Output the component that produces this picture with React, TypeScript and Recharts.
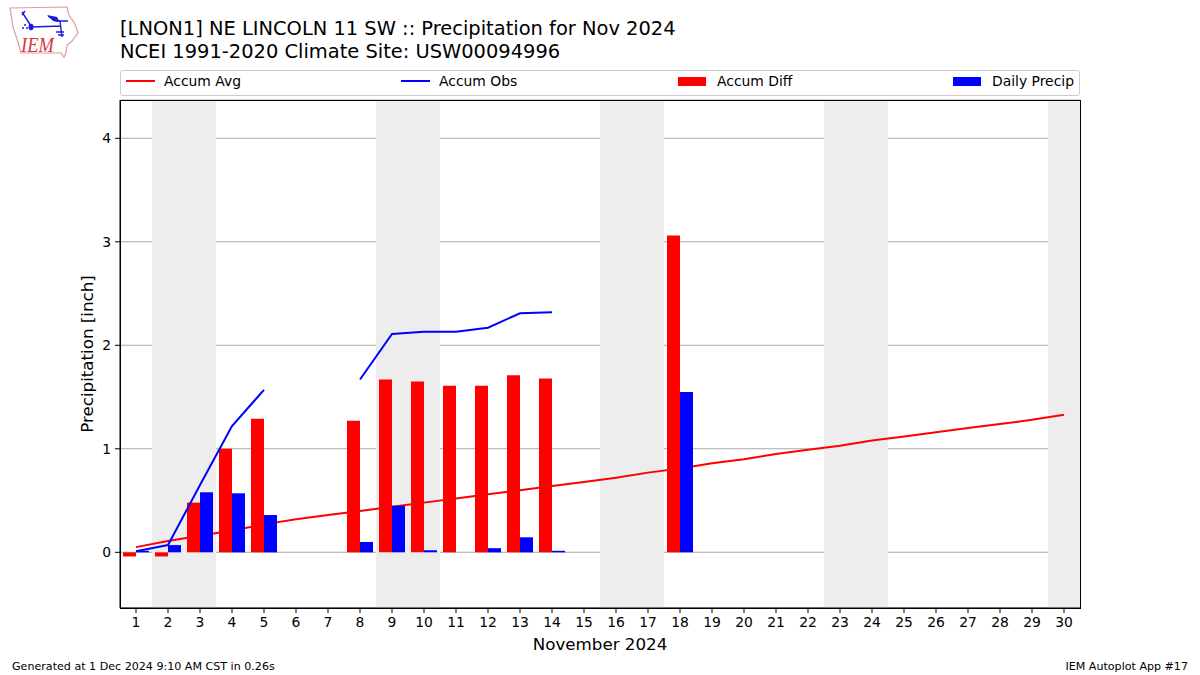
import {
  Bar,
  CartesianGrid,
  ComposedChart,
  Label,
  Line,
  ReferenceArea,
  XAxis,
  YAxis,
} from "recharts";

const days = [
  1, 2, 3, 4, 5, 6, 7, 8, 9, 10, 11, 12, 13, 14, 15, 16, 17, 18, 19, 20, 21, 22,
  23, 24, 25, 26, 27, 28, 29, 30,
];
const accumAvg = [
  0.05, 0.11, 0.16, 0.21, 0.27, 0.32, 0.36, 0.4, 0.44, 0.48, 0.52, 0.56, 0.6,
  0.64, 0.68, 0.72, 0.77, 0.81, 0.86, 0.9, 0.95, 0.99, 1.03, 1.08, 1.12, 1.16,
  1.2, 1.24, 1.28, 1.33,
];
const accumObs = [
  0.01, 0.07, 0.65, 1.22, 1.57, null, null, 1.67, 2.11, 2.13, 2.13, 2.17, 2.31,
  2.32, null, null, null, null, null, null, null, null, null, null, null, null,
  null, null, null, null,
];
const accumDiff = [
  -0.04, -0.04, 0.48, 1.0, 1.29, null, null, 1.27, 1.67, 1.65, 1.61, 1.61, 1.71,
  1.68, null, null, null, 3.06, null, null, null, null, null, null, null, null,
  null, null, null, null,
];
const dailyPrecip = [
  0.015, 0.07, 0.58, 0.57, 0.36, null, null, 0.1, 0.45, 0.02, 0, 0.04, 0.145,
  0.015, null, null, null, 1.55, null, null, null, null, null, null, null, null,
  null, null, null, null,
];
const weekends = [
  [1.5, 3.5],
  [8.5, 10.5],
  [15.5, 17.5],
  [22.5, 24.5],
  [29.5, 30.5],
];
const yTicks = [0, 1, 2, 3, 4];

const chartData = days.map((day, i) => ({
  day,
  avg: accumAvg[i],
  obs: accumObs[i],
  diff: accumDiff[i],
  daily: dailyPrecip[i],
}));

const FONT = "'DejaVu Sans', sans-serif";

function LegendBox() {
  const text = { position: "absolute", top: 2, fontSize: 13.9 } as const;
  return (
    <div
      style={{
        position: "absolute",
        left: 120,
        top: 70,
        width: 958,
        height: 24,
        border: "1px solid #ccc",
        borderRadius: 3,
        background: "#fff",
        color: "#000",
        fontFamily: FONT,
      }}
    >
      <div style={{ position: "absolute", left: 5, top: 9, width: 29, height: 2, background: "#f00" }} />
      <span style={{ ...text, left: 43 }}>Accum Avg</span>
      <div style={{ position: "absolute", left: 280, top: 9, width: 29, height: 2, background: "#00f" }} />
      <span style={{ ...text, left: 318 }}>Accum Obs</span>
      <div style={{ position: "absolute", left: 557, top: 6, width: 28, height: 9, background: "#f00" }} />
      <span style={{ ...text, left: 596 }}>Accum Diff</span>
      <div style={{ position: "absolute", left: 832, top: 6, width: 28, height: 9, background: "#00f" }} />
      <span style={{ ...text, left: 871 }}>Daily Precip</span>
    </div>
  );
}

function Logo() {
  return (
    <svg
      width={90}
      height={62}
      style={{ position: "absolute", left: 0, top: 0 }}
    >
      <path
        d="M10 8 L67 7 L69 15 L75 24 L78 33 L72 41 L67 45 L66 53 L64 57 L61 53 L21 53 L18 42 L13 27 Z"
        fill="#fff"
        stroke="#e59a9a"
        strokeWidth={1.2}
      />
      <path
        d="M22 12 L31 26 M22 15 L25 11 M31 27 L61 26 M48 16 L56 21 L68 21 M60 21 L62 37 M56 32 L64 32 M58 35 L64 35"
        fill="none"
        stroke="#1c1cd8"
        strokeWidth={1.4}
      />
      <path d="M47 15 L57 17 L60 22 L53 21 Z" fill="#1c1cd8" />
      <ellipse cx={31} cy={27} rx={2.5} ry={3.2} fill="#1c1cd8" />
      <circle cx={23} cy={28} r={1} fill="#1c1cd8" />
      <circle cx={27} cy={28} r={1} fill="#1c1cd8" />
      <circle cx={25} cy={25} r={1} fill="#1c1cd8" />
      <text
        x={21}
        y={52}
        fontFamily="'Liberation Serif', serif"
        fontStyle="italic"
        fontSize={21}
        textLength={33}
        lengthAdjust="spacingAndGlyphs"
        fill="#d8343c"
      >
        IEM
      </text>
    </svg>
  );
}

export default function App() {
  return (
    <div
      style={{
        position: "absolute",
        left: 0,
        top: 0,
        width: 1200,
        height: 675,
        background: "#fff",
        fontFamily: FONT,
        color: "#000",
        overflow: "hidden",
      }}
    >
      <Logo />
      <div
        style={{
          position: "absolute",
          left: 120,
          top: 18,
          fontSize: 19.44,
          lineHeight: "22.5px",
          whiteSpace: "nowrap",
        }}
      >
        [LNON1] NE LINCOLN 11 SW :: Precipitation for Nov 2024
        <br />
        NCEI 1991-2020 Climate Site: USW00094996
      </div>
      <ComposedChart
        width={1200}
        height={675}
        data={chartData}
        margin={{ top: 100, right: 120, bottom: 27, left: 60 }}
        barGap={0}
        barSize={13}
        style={{ position: "absolute", left: 0, top: 0 }}
      >
        {weekends.map(([start, end]) => (
          <ReferenceArea
            key={start}
            x1={start}
            x2={end}
            fill="#ededed"
            fillOpacity={1}
            stroke="none"
          />
        ))}
        <CartesianGrid vertical={false} stroke="#aaa" strokeWidth={1.1} />
        <XAxis
          dataKey="day"
          type="number"
          domain={[0.5, 30.5]}
          ticks={days}
          interval={0}
          height={40}
          tickSize={5}
          tickMargin={4}
          stroke="#000"
          tick={{ fill: "#000", fontSize: 13.9, fontFamily: FONT }}
          allowDataOverflow
        >
          <Label
            value="November 2024"
            position="insideBottom"
            offset={-2}
            style={{ fontSize: 16.7, fontFamily: FONT, fill: "#000" }}
          />
        </XAxis>
        <YAxis
          type="number"
          domain={[-0.538, 4.37]}
          ticks={yTicks}
          width={60}
          tickSize={5}
          tickMargin={4}
          stroke="#000"
          tick={{ fill: "#000", fontSize: 13.9, fontFamily: FONT }}
          allowDataOverflow
        >
          <Label
            value="Precipitation [inch]"
            angle={-90}
            position="insideLeft"
            offset={27}
            style={{
              fontSize: 16.7,
              fontFamily: FONT,
              fill: "#000",
              textAnchor: "middle",
            }}
          />
        </YAxis>
        <Line
          dataKey="avg"
          stroke="#f00"
          strokeWidth={2}
          dot={false}
          activeDot={false}
          isAnimationActive={false}
          zIndex={250}
        />
        <Bar dataKey="diff" fill="#f00" isAnimationActive={false} />
        <Bar dataKey="daily" fill="#00f" isAnimationActive={false} />
        <Line
          dataKey="obs"
          stroke="#00f"
          strokeWidth={2}
          dot={false}
          activeDot={false}
          isAnimationActive={false}
        />
      </ComposedChart>
      <LegendBox />
      <div
        style={{
          position: "absolute",
          left: 120,
          top: 100,
          width: 959,
          height: 507,
          border: "1px solid #000",
          pointerEvents: "none",
        }}
      />
      <div style={{ position: "absolute", left: 12, top: 660, fontSize: 11.1 }}>
        Generated at 1 Dec 2024 9:10 AM CST in 0.26s
      </div>
      <div style={{ position: "absolute", right: 12, top: 660, fontSize: 11.1 }}>
        IEM Autoplot App #17
      </div>
    </div>
  );
}
